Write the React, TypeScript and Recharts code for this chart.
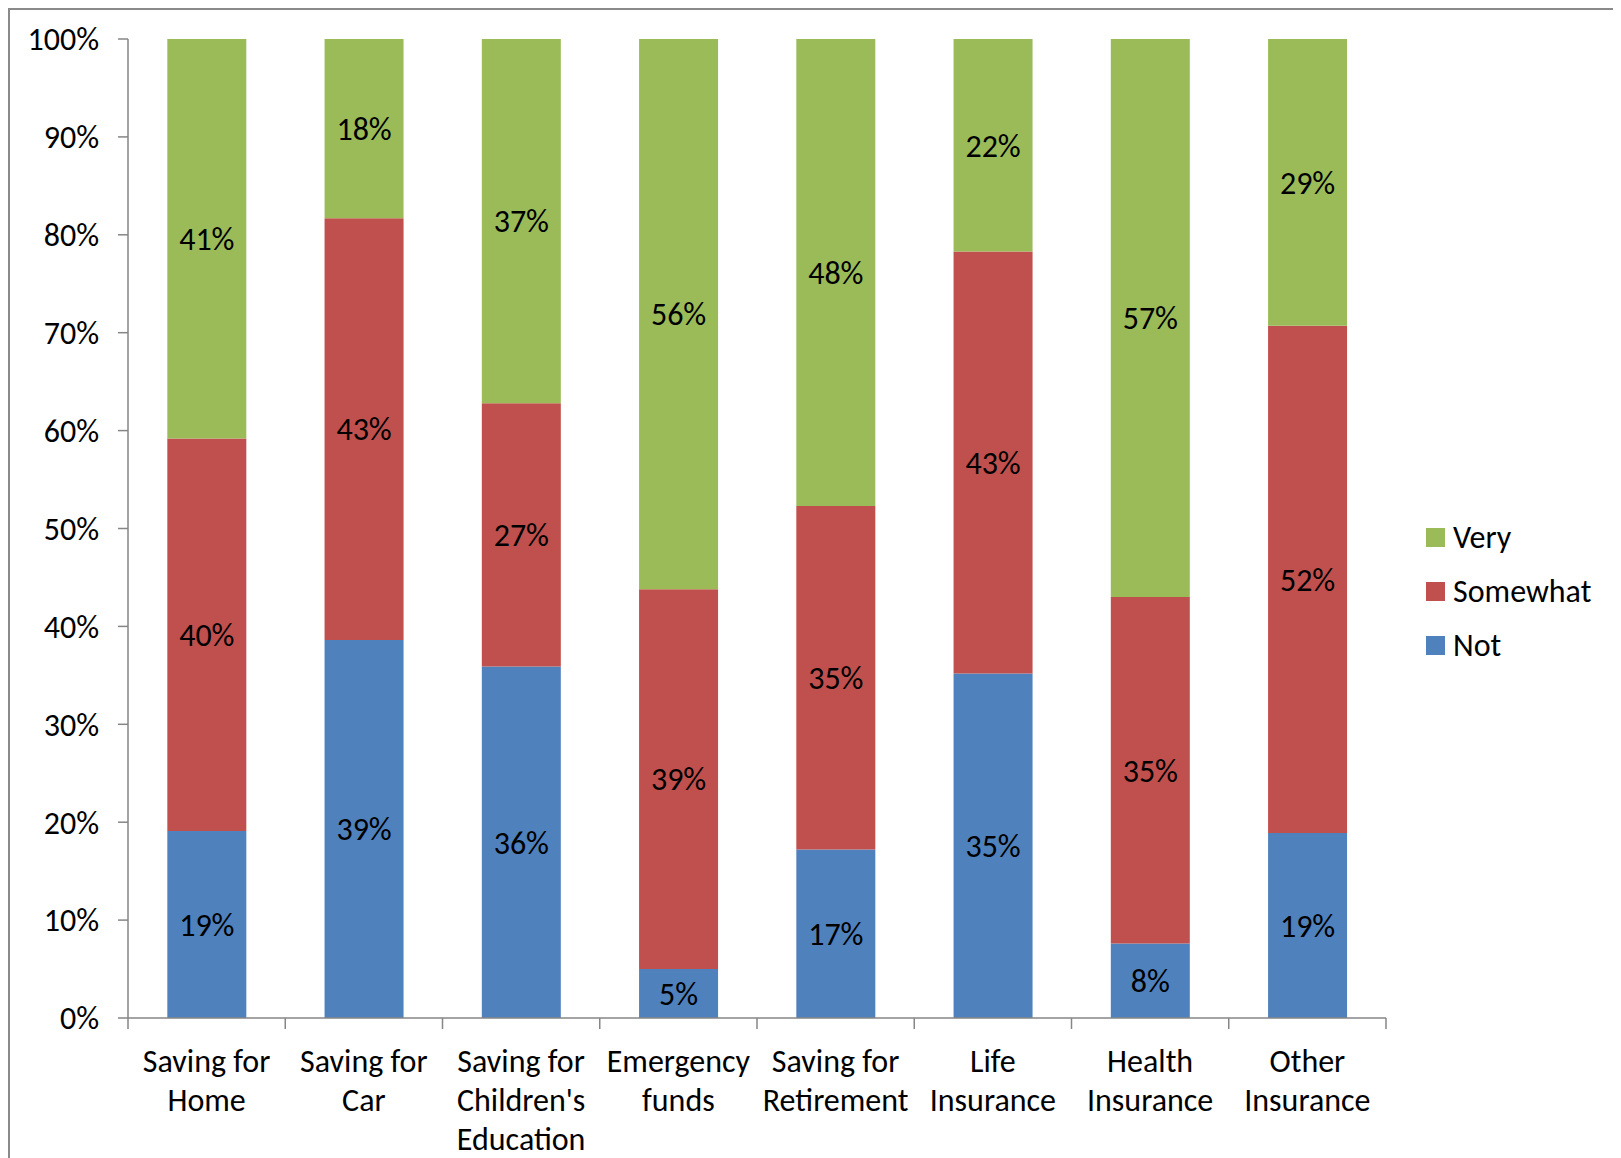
import { Bar, BarChart, LabelList, Legend, XAxis, YAxis } from "recharts";

const categories = [
  "Saving for Home",
  "Saving for Car",
  "Saving for Children's Education",
  "Emergency funds",
  "Saving for Retirement",
  "Life Insurance",
  "Health Insurance",
  "Other Insurance",
];

// how the axis labels wrap in the original
const categoryLines = [
  ["Saving for", "Home"],
  ["Saving for", "Car"],
  ["Saving for", "Children's", "Education"],
  ["Emergency", "funds"],
  ["Saving for", "Retirement"],
  ["Life", "Insurance"],
  ["Health", "Insurance"],
  ["Other", "Insurance"],
];

const notValues = [19.1, 38.6, 35.9, 5.0, 17.2, 35.2, 7.6, 18.9];
const somewhatValues = [40.1, 43.1, 26.9, 38.8, 35.1, 43.1, 35.4, 51.8];
const veryValues = [40.8, 18.3, 37.2, 56.2, 47.7, 21.7, 57.0, 29.3];

const yTicks = [0, 10, 20, 30, 40, 50, 60, 70, 80, 90, 100];

const FONT = "Carlito, Calibri, Lato, sans-serif";
const FS = 32;
const AXIS = "#868686";

const data = categories.map((name, i) => ({
  name,
  not: notValues[i],
  somewhat: somewhatValues[i],
  very: veryValues[i],
}));

const pct = (v: any) => `${Math.round(Number(v))}%`;

function CategoryTick(props: any) {
  const { x, y, payload, index, width } = props;
  const half = payload?.offset ?? width / categories.length / 2;
  const lines = categoryLines[index] ?? [payload.value];
  return (
    <g>
      <line x1={x - half} y1={y} x2={x - half} y2={y + 11} stroke={AXIS} strokeWidth={1.5} />
      {index === categories.length - 1 && (
        <line x1={x + half} y1={y} x2={x + half} y2={y + 11} stroke={AXIS} strokeWidth={1.5} />
      )}
      <text x={x} y={y} textAnchor="middle" fontFamily={FONT} fontSize={FS} fill="#000">
        {lines.map((l: string, k: number) => (
          <tspan key={k} x={x} dy={k === 0 ? 54 : 39}>
            {l}
          </tspan>
        ))}
      </text>
    </g>
  );
}

function LegendBox(props: any) {
  const items = [...(props.payload ?? [])].reverse();
  return (
    <div style={{ fontFamily: FONT, fontSize: FS, color: "#000" }}>
      {items.map((it: any) => (
        <div key={it.value} style={{ display: "flex", alignItems: "center", height: 54 }}>
          <span style={{ width: 19, height: 19, background: it.color, marginRight: 8 }} />
          <span>{it.value}</span>
        </div>
      ))}
    </div>
  );
}

export default function App() {
  return (
    <div style={{ border: `2px solid #8a8a8a`, width: 1606, height: 1152, background: "#fff" }}>
      <BarChart
        width={1606}
        height={1152}
        data={data}
        margin={{ top: 29, right: 230, bottom: 0, left: 0 }}
        barCategoryGap="25%"
      >
        <XAxis
          dataKey="name"
          height={144}
          interval={0}
          stroke={AXIS}
          strokeWidth={1.5}
          tickLine={false}
          tickSize={0}
          tickMargin={0}
          tick={<CategoryTick />}
        />
        <YAxis
          width={118}
          domain={[0, 100]}
          ticks={yTicks}
          tickFormatter={(v) => `${v}%`}
          stroke={AXIS}
          strokeWidth={1.5}
          tickSize={10}
          tickMargin={19}
          tick={{ fill: "#000", fontSize: FS, fontFamily: FONT }}
        />
        <Legend
          layout="horizontal"
          verticalAlign="middle"
          align="center"
          content={<LegendBox />}
          wrapperStyle={{ position: "absolute", left: 1416, top: 500, width: 200 }}
        />
        <Bar dataKey="not" name="Not" stackId="a" fill="#4F81BD" isAnimationActive={false}>
          <LabelList dataKey="not" position="center" formatter={pct} fill="#000" fontSize={FS} fontFamily={FONT} />
        </Bar>
        <Bar dataKey="somewhat" name="Somewhat" stackId="a" fill="#C0504D" isAnimationActive={false}>
          <LabelList dataKey="somewhat" position="center" formatter={pct} fill="#000" fontSize={FS} fontFamily={FONT} />
        </Bar>
        <Bar dataKey="very" name="Very" stackId="a" fill="#9BBB59" isAnimationActive={false}>
          <LabelList dataKey="very" position="center" formatter={pct} fill="#000" fontSize={FS} fontFamily={FONT} />
        </Bar>
      </BarChart>
    </div>
  );
}
